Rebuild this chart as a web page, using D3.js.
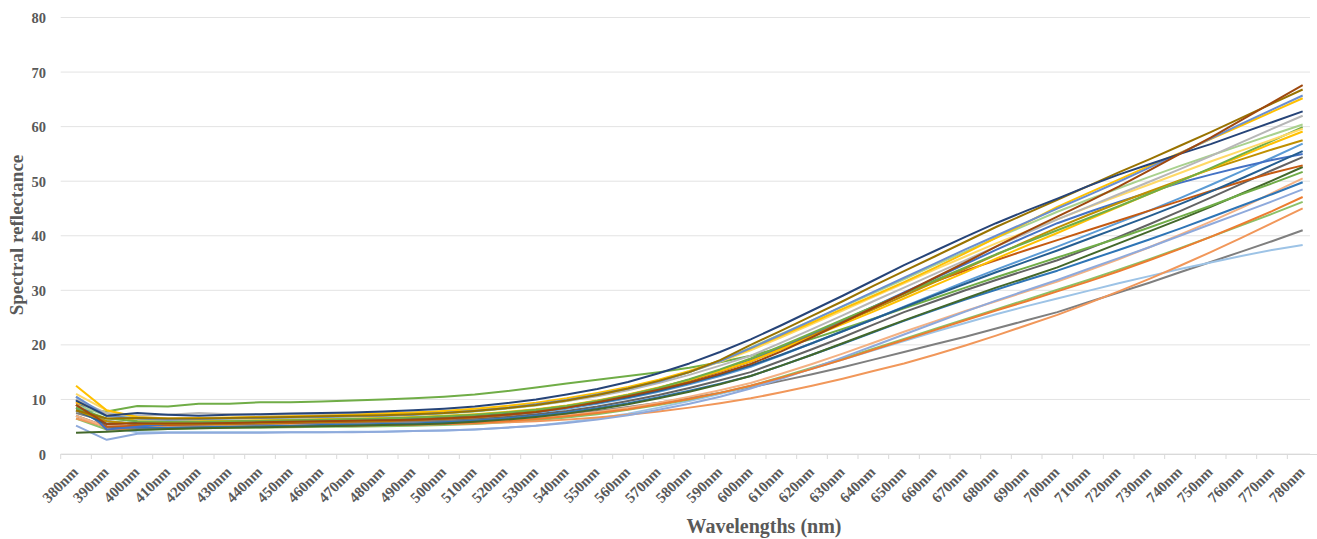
<!DOCTYPE html>
<html>
<head>
<meta charset="utf-8">
<script src="https://cdn.jsdelivr.net/npm/d3@7"></script>
<style>
    body { margin: 0; background: #fff; }
    svg text { font-family: "Palatino Linotype", "Book Antiqua", Palatino, "Liberation Serif", serif; fill: #595959; font-weight: bold; }
</style>
</head>
<body>
<script>
// categories along the x axis
var wavelengths = [];
for (var nm = 380; nm <= 780; nm += 10) wavelengths.push(nm + "nm");

var yTicks = [0, 10, 20, 30, 40, 50, 60, 70, 80];

// one array per sample curve (reflectance values, 380nm..780nm)
var s01 = [9.0, 5.5, 5.6, 5.6, 5.6, 5.7, 5.8, 5.9, 6.0, 6.1, 6.2, 6.3, 6.5, 6.8, 7.2, 7.7, 8.5, 9.5, 10.6, 11.8, 13.1, 14.7, 16.5, 18.8, 21.4, 24.1, 26.8, 29.5, 32.3, 35.1, 38.0, 40.8, 43.5, 46.2, 49.0, 52.0, 55.0, 58.0, 61.2, 64.4, 67.6];
var s02 = [8.0, 6.5, 6.6, 6.5, 6.5, 6.6, 6.7, 6.8, 6.9, 7.0, 7.1, 7.3, 7.5, 7.9, 8.4, 9.0, 9.8, 10.8, 12.0, 13.4, 15.0, 17.2, 20.0, 22.6, 25.3, 28.0, 30.8, 33.5, 36.2, 38.9, 41.6, 44.1, 46.6, 49.1, 51.6, 54.0, 56.5, 59.0, 61.6, 64.2, 66.8];
var s03 = [10.5, 7.0, 6.5, 6.3, 6.4, 6.5, 6.6, 6.7, 6.8, 6.9, 7.0, 7.2, 7.5, 7.9, 8.4, 9.1, 9.9, 10.9, 12.0, 13.3, 15.0, 17.0, 19.4, 21.9, 24.5, 27.1, 29.7, 32.3, 34.9, 37.5, 40.0, 42.5, 45.0, 47.4, 49.9, 52.5, 55.1, 57.8, 60.5, 63.1, 65.7];
var s04 = [12.5, 8.0, 6.8, 6.5, 6.6, 6.7, 6.8, 6.9, 7.0, 7.2, 7.4, 7.6, 7.9, 8.3, 8.8, 9.4, 10.2, 11.2, 12.3, 13.6, 15.2, 17.1, 19.3, 21.7, 24.1, 26.6, 29.0, 31.5, 34.1, 36.8, 39.6, 42.4, 45.3, 47.8, 50.3, 52.8, 55.2, 57.7, 60.2, 62.7, 65.2];
var s05 = [9.8, 7.0, 7.5, 7.2, 7.0, 7.2, 7.3, 7.4, 7.5, 7.6, 7.8, 8.0, 8.3, 8.7, 9.3, 10.0, 10.9, 11.9, 13.2, 14.8, 16.6, 18.7, 21.0, 23.6, 26.3, 29.0, 31.8, 34.6, 37.2, 39.8, 42.3, 44.6, 46.8, 49.1, 51.2, 53.1, 55.0, 56.8, 58.8, 60.8, 62.8];
var s06 = [10.0, 7.5, 7.0, 7.2, 7.5, 7.3, 7.2, 7.2, 7.3, 7.4, 7.5, 7.6, 7.8, 8.1, 8.5, 9.0, 9.7, 10.6, 11.7, 13.0, 14.5, 16.2, 18.0, 20.4, 22.9, 25.4, 28.0, 30.5, 33.0, 35.5, 38.0, 40.5, 43.0, 45.3, 47.6, 49.9, 52.2, 54.6, 57.1, 59.6, 62.0];
var s07 = [9.0, 7.0, 6.5, 6.4, 6.4, 6.5, 6.6, 6.7, 6.8, 6.9, 7.0, 7.2, 7.4, 7.8, 8.3, 8.9, 9.7, 10.7, 11.9, 13.3, 15.0, 17.1, 19.5, 22.0, 24.5, 27.0, 29.5, 32.0, 34.6, 37.1, 39.6, 42.0, 44.4, 46.6, 48.7, 50.8, 52.8, 54.7, 56.6, 58.5, 60.4];
var s08 = [8.5, 6.5, 6.0, 5.9, 5.9, 6.0, 6.1, 6.2, 6.3, 6.4, 6.5, 6.7, 6.9, 7.2, 7.6, 8.1, 8.8, 9.7, 10.8, 12.1, 13.7, 15.5, 17.5, 19.8, 22.2, 24.6, 27.0, 29.4, 31.8, 34.2, 36.6, 38.8, 41.0, 43.2, 45.4, 47.7, 50.0, 52.4, 54.9, 57.4, 59.9];
var s09 = [11.0, 8.0, 6.6, 6.4, 6.5, 6.6, 6.7, 6.8, 6.9, 7.0, 7.1, 7.3, 7.5, 7.9, 8.4, 9.0, 9.8, 10.8, 12.0, 13.4, 15.0, 16.9, 19.0, 21.4, 23.8, 26.3, 28.8, 31.3, 33.8, 36.2, 38.6, 40.8, 43.0, 45.2, 47.3, 49.4, 51.5, 53.6, 55.6, 57.6, 59.6];
var s10 = [9.5, 7.5, 6.0, 5.9, 6.0, 6.1, 6.2, 6.3, 6.4, 6.5, 6.6, 6.8, 7.0, 7.3, 7.7, 8.2, 8.9, 9.8, 10.9, 12.2, 13.6, 15.2, 17.0, 19.2, 21.5, 23.8, 26.1, 28.5, 30.9, 33.3, 35.8, 38.2, 40.5, 42.9, 45.3, 47.7, 50.0, 52.3, 54.6, 56.9, 59.1];
var s11 = [8.0, 6.0, 5.5, 5.5, 5.5, 5.6, 5.7, 5.8, 5.9, 6.0, 6.1, 6.3, 6.5, 6.8, 7.2, 7.8, 8.6, 9.6, 10.7, 12.0, 13.5, 15.2, 17.0, 19.3, 21.7, 24.1, 26.5, 29.0, 31.5, 34.0, 36.5, 39.0, 41.5, 43.8, 46.0, 48.1, 50.2, 52.2, 54.0, 55.8, 57.5];
var s12 = [9.0, 6.0, 5.5, 5.4, 5.4, 5.5, 5.6, 5.7, 5.8, 5.9, 6.0, 6.2, 6.4, 6.7, 7.1, 7.6, 8.3, 9.2, 10.2, 11.4, 12.8, 14.3, 16.0, 18.1, 20.3, 22.5, 24.7, 27.0, 29.3, 31.6, 33.8, 35.9, 38.0, 40.2, 42.4, 44.6, 46.9, 49.3, 51.8, 54.3, 56.9];
var s13 = [10.0, 4.5, 5.0, 5.5, 5.8, 5.9, 6.0, 6.1, 6.2, 6.3, 6.4, 6.6, 6.8, 7.1, 7.5, 8.1, 8.8, 9.7, 10.8, 12.1, 13.6, 15.3, 17.2, 19.6, 22.0, 24.5, 27.0, 29.6, 32.2, 34.8, 37.4, 39.9, 42.3, 44.3, 46.2, 48.0, 49.7, 51.2, 52.6, 53.9, 55.0];
var s14 = [7.0, 5.0, 5.0, 5.1, 5.2, 5.3, 5.4, 5.5, 5.6, 5.7, 5.8, 5.9, 6.1, 6.4, 6.8, 7.3, 7.9, 8.7, 9.7, 10.8, 12.1, 13.5, 15.0, 17.1, 19.2, 21.4, 23.7, 26.0, 28.0, 30.0, 31.9, 33.7, 35.5, 37.6, 39.8, 42.1, 44.5, 47.0, 49.5, 52.0, 54.4];
var s15 = [9.0, 5.0, 5.2, 5.3, 5.4, 5.5, 5.6, 5.7, 5.8, 5.9, 6.0, 6.2, 6.4, 6.7, 7.1, 7.7, 8.5, 9.5, 10.6, 11.9, 13.4, 15.1, 17.0, 19.4, 21.8, 24.3, 26.9, 29.5, 31.6, 33.6, 35.5, 37.4, 39.2, 41.0, 42.8, 44.6, 46.4, 48.2, 49.9, 51.5, 52.9];
var s16 = [3.9, 4.1, 4.4, 4.6, 4.7, 4.8, 4.9, 5.0, 5.1, 5.2, 5.3, 5.4, 5.6, 5.9, 6.3, 6.8, 7.4, 8.2, 9.1, 10.2, 11.4, 12.8, 14.3, 16.2, 18.2, 20.3, 22.4, 24.5, 26.5, 28.5, 30.5, 32.3, 34.2, 36.4, 38.6, 40.8, 43.0, 45.3, 47.7, 50.1, 52.6];
var s17 = [8.0, 7.8, 8.8, 8.7, 9.2, 9.2, 9.5, 9.5, 9.6, 9.8, 10.0, 10.2, 10.5, 10.9, 11.5, 12.2, 12.9, 13.6, 14.3, 15.0, 15.8, 16.8, 18.0, 19.5, 21.1, 22.9, 24.8, 26.7, 28.6, 30.5, 32.4, 34.2, 36.0, 37.8, 39.6, 41.5, 43.5, 45.5, 47.6, 49.6, 51.7];
var s18 = [7.0, 5.0, 5.0, 5.0, 5.1, 5.1, 5.2, 5.3, 5.3, 5.4, 5.5, 5.6, 5.7, 5.9, 6.2, 6.6, 7.1, 7.7, 8.5, 9.4, 10.5, 11.7, 13.0, 14.7, 16.5, 18.4, 20.4, 22.4, 24.3, 26.2, 28.0, 29.8, 31.6, 33.6, 35.7, 37.9, 40.2, 42.6, 45.1, 47.8, 50.5];
var s19 = [8.5, 5.0, 4.8, 4.8, 4.9, 5.0, 5.1, 5.2, 5.3, 5.4, 5.5, 5.6, 5.8, 6.1, 6.5, 7.0, 7.6, 8.4, 9.3, 10.4, 11.6, 12.9, 14.3, 16.2, 18.2, 20.2, 22.3, 24.4, 26.4, 28.3, 30.1, 31.9, 33.6, 35.5, 37.4, 39.3, 41.3, 43.4, 45.5, 47.6, 49.8];
var s20 = [5.2, 2.6, 3.7, 3.9, 3.9, 3.9, 3.9, 4.0, 4.0, 4.0, 4.1, 4.2, 4.3, 4.5, 4.8, 5.2, 5.7, 6.3, 7.1, 8.1, 9.2, 10.5, 12.0, 13.8, 15.7, 17.7, 19.8, 21.9, 24.0, 26.1, 28.1, 30.0, 31.9, 33.9, 35.9, 37.9, 40.0, 42.1, 44.2, 46.3, 48.5];
var s21 = [9.5, 4.5, 4.7, 4.8, 4.9, 5.0, 5.0, 5.1, 5.2, 5.2, 5.3, 5.4, 5.5, 5.7, 6.0, 6.4, 6.9, 7.5, 8.2, 9.1, 10.1, 11.2, 12.5, 14.0, 15.6, 17.3, 19.1, 20.9, 22.7, 24.5, 26.3, 28.0, 29.8, 31.6, 33.5, 35.5, 37.6, 39.8, 42.1, 44.5, 47.1];
var s22 = [6.5, 4.5, 4.5, 4.6, 4.7, 4.8, 4.8, 4.9, 5.0, 5.0, 5.1, 5.2, 5.3, 5.5, 5.8, 6.2, 6.7, 7.3, 8.1, 9.0, 10.0, 11.2, 12.5, 14.1, 15.8, 17.5, 19.3, 21.1, 22.9, 24.7, 26.5, 28.3, 30.1, 31.9, 33.8, 35.7, 37.7, 39.8, 41.9, 44.0, 46.2];
var s23 = [6.5, 5.0, 5.0, 5.0, 5.0, 5.1, 5.1, 5.2, 5.2, 5.3, 5.3, 5.4, 5.5, 5.6, 5.8, 6.0, 6.3, 6.7, 7.2, 7.8, 8.5, 9.3, 10.2, 11.3, 12.5, 13.8, 15.2, 16.6, 18.2, 19.9, 21.7, 23.6, 25.5, 27.6, 29.8, 32.1, 34.5, 37.0, 39.6, 42.3, 45.0];
var s24 = [7.5, 6.0, 5.5, 5.5, 5.5, 5.6, 5.6, 5.7, 5.7, 5.8, 5.8, 5.9, 6.0, 6.2, 6.5, 6.8, 7.3, 7.9, 8.6, 9.4, 10.3, 11.2, 12.2, 13.4, 14.6, 15.9, 17.3, 18.7, 20.1, 21.5, 23.0, 24.5, 26.0, 27.8, 29.6, 31.4, 33.3, 35.2, 37.1, 39.0, 41.0];
var s25 = [10.5, 5.0, 4.0, 4.0, 4.0, 4.0, 4.0, 4.0, 4.0, 4.1, 4.1, 4.2, 4.3, 4.5, 4.8, 5.2, 5.8, 6.5, 7.4, 8.5, 9.7, 11.0, 12.4, 14.0, 15.6, 17.3, 19.0, 20.7, 22.4, 24.0, 25.6, 27.1, 28.5, 29.9, 31.3, 32.6, 33.9, 35.1, 36.3, 37.4, 38.3];
var s26 = [8.0, 5.5, 5.8, 5.9, 5.9, 6.0, 6.0, 6.1, 6.2, 6.3, 6.4, 6.5, 6.7, 7.0, 7.4, 7.9, 8.6, 9.4, 10.4, 11.6, 13.0, 14.5, 16.2, 18.2, 20.3, 22.5, 24.7, 26.9, 29.1, 31.2, 33.3, 35.3, 37.3, 39.4, 41.5, 43.6, 45.8, 48.1, 50.5, 53.0, 55.5];

var seriesValues = [s14, s24, s25, s22, s23, s18, s20, s21, s19, s16, s17, s12, s15, s13, s26, s11, s10, s08, s09, s07, s06, s04, s03, s02, s05, s01];
var seriesColors = ["#636363", "#7f7f7f", "#9dc3e6", "#8cc168", "#f1975a", "#f4b183", "#8faadc", "#ed7d31", "#2e75b6", "#43682b", "#70ad47", "#5b9bd5", "#c55a11", "#4472c4", "#255e91", "#bf8f00", "#ffc000", "#70ad47", "#ffd966", "#a9d18e", "#b7b7b7", "#ffc000", "#698ed0", "#997300", "#264478", "#9e480e"];

function init() {
    var w = 1317;
    var h = 539;
    var left = 60.7, right = 1318, top = 17.5, bottom = 454;

    var svg = d3.select("body").append("svg").attr("width", w).attr("height", h);

    var xScale = d3.scaleBand().domain(wavelengths).range([left, right]);
    var yScale = d3.scaleLinear().domain([0, 80]).range([bottom, top]);

    // gridlines
    svg.append("g")
        .selectAll("line")
        .data(yTicks)
        .enter().append("line")
        .attr("x1", left)
        .attr("x2", 1310)
        .attr("y1", function (d) { return yScale(d); })
        .attr("y2", function (d) { return yScale(d); })
        .attr("stroke", "#e3e3e3")
        .attr("stroke-width", 1);

    // y tick labels
    var yAxis = d3.axisLeft(yScale).tickValues(yTicks).tickSize(0).tickPadding(0);
    svg.append("g")
        .attr("transform", "translate(46,0)")
        .call(yAxis)
        .call(function (g) { g.select(".domain").remove(); })
        .selectAll("text")
        .style("font-size", "14.5px")
        .attr("dy", "0.35em");

    // x axis with tick marks at band edges
    var xAxis = d3.axisBottom(xScale).tickSize(0).tickPadding(0);
    var gx = svg.append("g")
        .attr("transform", "translate(0," + bottom + ")")
        .call(xAxis);
    gx.select(".domain").attr("stroke", "#d9d9d9");
    gx.selectAll("text")
        .style("font-size", "15px")
        .attr("text-anchor", "end")
        .attr("dy", "0")
        .attr("transform", "translate(3,19) rotate(-45)");
    svg.append("g")
        .selectAll("line")
        .data(wavelengths.concat([null]))
        .enter().append("line")
        .attr("x1", function (d, i) { return left + i * xScale.step(); })
        .attr("x2", function (d, i) { return left + i * xScale.step(); })
        .attr("y1", bottom)
        .attr("y2", bottom + 5)
        .attr("stroke", "#d9d9d9");

    // series lines
    var line = d3.line()
        .x(function (d, i) { return xScale(wavelengths[i]) + xScale.bandwidth() / 2; })
        .y(function (d) { return yScale(d); });

    svg.append("g")
        .selectAll("path")
        .data(seriesValues)
        .enter().append("path")
        .attr("d", function (d) { return line(d); })
        .attr("fill", "none")
        .attr("stroke", function (d, i) { return seriesColors[i]; })
        .attr("stroke-width", 2)
        .attr("stroke-linejoin", "round");

    // axis titles
    svg.append("text")
        .attr("x", 764)
        .attr("y", 533)
        .attr("text-anchor", "middle")
        .style("font-size", "20px")
        .text("Wavelengths (nm)");

    svg.append("text")
        .attr("transform", "rotate(-90)")
        .attr("x", -235)
        .attr("y", 23)
        .attr("text-anchor", "middle")
        .style("font-size", "19px")
        .text("Spectral reflectance");
}

window.onload = init;
</script>
</body>
</html>
